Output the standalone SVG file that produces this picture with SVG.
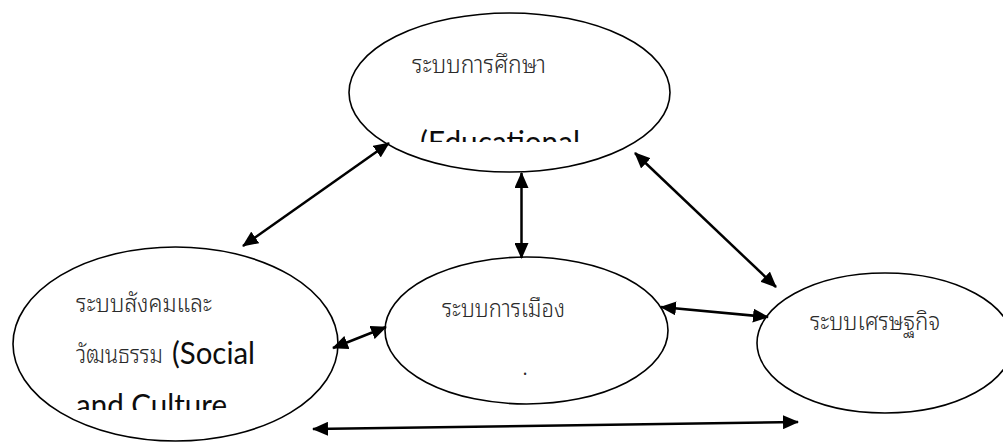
<svg xmlns="http://www.w3.org/2000/svg" width="1003" height="443" viewBox="0 0 1003 443">
  <style>
    .node ellipse { fill: #ffffff; stroke: #000000; stroke-width: 1.6; }
    .th { font-family: "Noto Sans Thai Looped", "Loma", "Garuda", "Noto Sans Thai", "Noto Sans", sans-serif; font-size: 25px; font-weight: 300; fill: #2a2a2a; }
    .en { font-family: Lato, "Liberation Sans", sans-serif; font-size: 30px; fill: #0d0d0d; }
    .link { stroke: #000000; stroke-width: 2.5; fill: none; marker-start: url(#head); marker-end: url(#head); }
  </style>
  <defs>
    <marker id="head" viewBox="0 0 16 14" refX="15" refY="7" markerWidth="16" markerHeight="14" markerUnits="userSpaceOnUse" orient="auto-start-reverse">
      <path d="M0,0 L16,7 L0,14 z" fill="#000000"/>
    </marker>
    <clipPath id="clip-edu"><rect x="400" y="100" width="200" height="42"/></clipPath>
    <clipPath id="clip-soc"><rect x="60" y="370" width="200" height="40"/></clipPath>
  </defs>

  <rect width="1003" height="443" fill="#ffffff"/>

  <!-- Education system -->
  <g id="education" class="node">
    <ellipse cx="509.5" cy="92.5" rx="160.5" ry="79.5"/>
    <text class="th" x="412" y="73" textLength="134" lengthAdjust="spacingAndGlyphs">ระบบการศึกษา</text>
    <text class="en" x="420" y="153" textLength="160" lengthAdjust="spacingAndGlyphs" clip-path="url(#clip-edu)">(Educational</text>
  </g>

  <!-- Social and culture system -->
  <g id="social" class="node">
    <ellipse cx="175.5" cy="344" rx="162.5" ry="97"/>
    <text class="th" x="76" y="312" textLength="136" lengthAdjust="spacingAndGlyphs">ระบบสังคมและ</text>
    <text class="th" x="76" y="363" textLength="87" lengthAdjust="spacingAndGlyphs">วัฒนธรรม</text>
    <text class="en" x="172" y="364" textLength="83" lengthAdjust="spacingAndGlyphs">(Social</text>
    <text class="en" x="76" y="416" textLength="151" lengthAdjust="spacingAndGlyphs" clip-path="url(#clip-soc)">and Culture</text>
  </g>

  <!-- Political system -->
  <g id="politics" class="node">
    <ellipse cx="526.5" cy="330.5" rx="141.5" ry="73.5"/>
    <text class="th" x="442" y="317" textLength="123" lengthAdjust="spacingAndGlyphs">ระบบการเมือง</text>
    <text class="th" x="522" y="375" font-size="9">.</text>
  </g>

  <!-- Economic system -->
  <g id="economy" class="node">
    <ellipse cx="885" cy="343" rx="128" ry="70"/>
    <text class="th" x="810" y="330" textLength="130" lengthAdjust="spacingAndGlyphs">ระบบเศรษฐกิจ</text>
  </g>

  <!-- Two-way links between the systems -->
  <g id="connectors">
    <line class="link" x1="243" y1="246" x2="389" y2="143"/>
    <line class="link" x1="521.5" y1="173" x2="521.5" y2="258"/>
    <line class="link" x1="635" y1="153" x2="776" y2="287"/>
    <line class="link" x1="661" y1="307" x2="768" y2="317"/>
    <line class="link" x1="333" y1="348" x2="386" y2="327"/>
    <line class="link" x1="313" y1="429" x2="798" y2="422"/>
  </g>
</svg>
